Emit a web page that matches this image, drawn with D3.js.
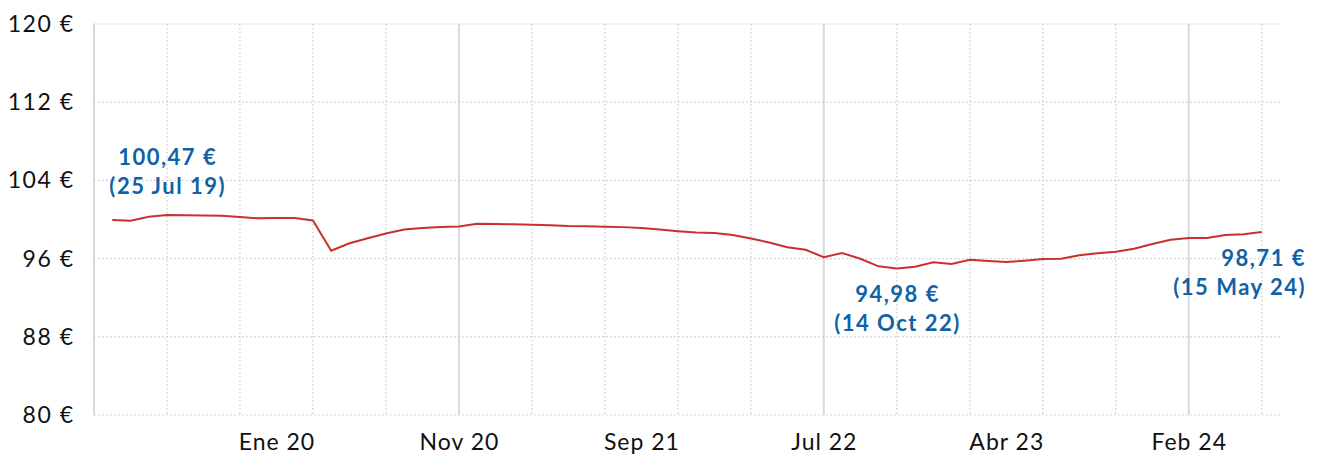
<!DOCTYPE html>
<html>
<head>
<meta charset="utf-8">
<script src="https://cdn.jsdelivr.net/npm/d3@7"></script>
<style>
    body { margin: 0; background: #fff; }
    text { font-family: Futura, "Century Gothic", Lato, sans-serif; }
    .ylabel { font-size: 23px; letter-spacing: 1.5px; fill: #111; }
    .xlabel { font-size: 23px; letter-spacing: 1px; fill: #111; }
    .note { font-size: 22px; letter-spacing: 1.5px; font-weight: bold; fill: #0f62a6; }
</style>
</head>
<body>
<div id="chart"></div>
<script>

// price series, one point per period
var values = [
    99.95, 99.88, 100.29, 100.47, 100.43, 100.41, 100.39, 100.26, 100.12, 100.15,
    100.15, 99.9, 96.81, 97.57, 98.08, 98.57, 98.97, 99.13, 99.23, 99.28,
    99.57, 99.54, 99.51, 99.46, 99.41, 99.33, 99.3, 99.25, 99.22, 99.12,
    98.97, 98.8, 98.67, 98.62, 98.41, 98.06, 97.65, 97.17, 96.9, 96.14,
    96.58, 95.98, 95.21, 94.98, 95.17, 95.62, 95.45, 95.88, 95.75, 95.65,
    95.79, 95.96, 95.99, 96.34, 96.54, 96.71, 97.01, 97.49, 97.93, 98.11,
    98.11, 98.41, 98.48, 98.71
];

var tickIndex = [9, 19, 29, 39, 49, 59];
var tickLabels = ["Ene 20", "Nov 20", "Sep 21", "Jul 22", "Abr 23", "Feb 24"];
var yTicks = [80, 88, 96, 104, 112, 120];

// annotated points: max, min, last
var noteIndex = [3, 43, 63];
var noteValue = ["100,47 €", "94,98 €", "98,71 €"];
var noteDate = ["(25 Jul 19)", "(14 Oct 22)", "(15 May 24)"];

var w = 1321,
    h = 455;

var svg = d3.select("#chart")
    .append("svg")
    .attr("width", w)
    .attr("height", h);

var x = d3.scaleLinear()
    .domain([-1, values.length])
    .range([94, 1280]);

var y = d3.scaleLinear()
    .domain([80, 120])
    .range([415, 24]);

// dotted vertical grid every 4 points, solid every 20
var gridX = d3.range(3, values.length, 4);

svg.append("g")
    .selectAll("line")
    .data(gridX)
    .enter()
    .append("line")
    .attr("x1", function (d) { return x(d); })
    .attr("x2", function (d) { return x(d); })
    .attr("y1", y(120))
    .attr("y2", y(80))
    .attr("stroke", function (d) { return (d + 1) % 20 == 0 ? "#d9d9d9" : "#c8c8c8"; })
    .attr("stroke-width", function (d) { return (d + 1) % 20 == 0 ? 2 : 1.2; })
    .attr("stroke-dasharray", function (d) { return (d + 1) % 20 == 0 ? null : "1.5,2.5"; });

// horizontal dotted grid
svg.append("g")
    .selectAll("line")
    .data(yTicks)
    .enter()
    .append("line")
    .attr("x1", x(-1))
    .attr("x2", x(values.length))
    .attr("y1", function (d) { return y(d); })
    .attr("y2", function (d) { return y(d); })
    .attr("stroke", "#c8c8c8")
    .attr("stroke-width", 1.2)
    .attr("stroke-dasharray", "1.5,2.5");

// y axis line
svg.append("line")
    .attr("x1", x(-1))
    .attr("x2", x(-1))
    .attr("y1", y(120))
    .attr("y2", y(80))
    .attr("stroke", "#d9d9d9")
    .attr("stroke-width", 2);

// y labels
svg.append("g")
    .selectAll("text")
    .data(yTicks)
    .enter()
    .append("text")
    .attr("class", "ylabel")
    .attr("x", 74.5)
    .attr("y", function (d) { return y(d) + 8; })
    .attr("text-anchor", "end")
    .text(function (d) { return d + " €"; });

// x labels
svg.append("g")
    .selectAll("text")
    .data(tickIndex)
    .enter()
    .append("text")
    .attr("class", "xlabel")
    .attr("x", function (d) { return x(d) + 0.5; })
    .attr("y", 450)
    .attr("text-anchor", "middle")
    .text(function (d, i) { return tickLabels[i]; });

// the line
var line = d3.line()
    .x(function (d, i) { return x(i); })
    .y(function (d) { return y(d); });

svg.append("path")
    .datum(values)
    .attr("d", line)
    .attr("fill", "none")
    .attr("stroke", "#c9312d")
    .attr("stroke-width", 2);

// annotations
var notes = svg.append("g")
    .selectAll("text")
    .data(noteIndex)
    .enter()
    .append("text")
    .attr("class", "note")
    .attr("text-anchor", function (d, i) { return i == 2 ? "end" : "middle"; })
    .attr("transform", function (d, i) {
        var px = i == 2 ? 1306 : x(d) + 0.7,
            py = y(values[d]) + (i == 0 ? -50 : i == 1 ? 33 : 34);
        return "translate(" + px + "," + py + ")";
    });

notes.append("tspan")
    .attr("x", 0)
    .attr("y", 0)
    .text(function (d, i) { return noteValue[i]; });

notes.append("tspan")
    .attr("x", 0)
    .attr("y", 29)
    .text(function (d, i) { return noteDate[i]; });

</script>
</body>
</html>
